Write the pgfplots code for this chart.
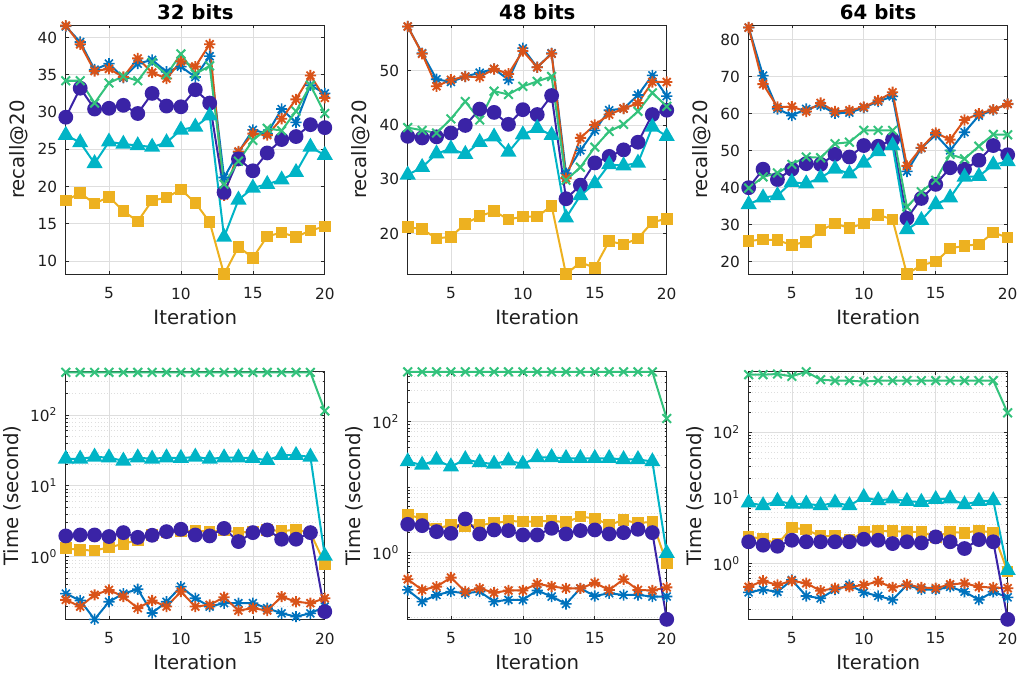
\documentclass[border=0pt]{standalone}
\usepackage{pgfplots}
\pgfplotsset{compat=1.18}
\usepackage{pgfplotstable}
\usepackage{fontspec}
\setmainfont{DejaVu Sans}

\definecolor{cb}{HTML}{0072BD}
\definecolor{cr}{HTML}{D95319}
\definecolor{cy}{HTML}{EDB120}
\definecolor{cp}{HTML}{3A23A6}
\definecolor{cg}{HTML}{33C27C}
\definecolor{cc}{HTML}{00B4C6}
\definecolor{axgray}{HTML}{262626}

\newcommand\ticksize{\fontsize{11.5}{13}\selectfont}
\newcommand\labsize{\fontsize{14.8}{17}\selectfont}

% MATLAB style '*' marker: plus and cross together
\pgfdeclareplotmark{mstar}{%
  \pgfpathmoveto{\pgfqpoint{-\pgfplotmarksize}{0pt}}%
  \pgfpathlineto{\pgfqpoint{\pgfplotmarksize}{0pt}}%
  \pgfpathmoveto{\pgfqpoint{0pt}{-\pgfplotmarksize}}%
  \pgfpathlineto{\pgfqpoint{0pt}{\pgfplotmarksize}}%
  \pgfpathmoveto{\pgfqpoint{-.707\pgfplotmarksize}{-.707\pgfplotmarksize}}%
  \pgfpathlineto{\pgfqpoint{.707\pgfplotmarksize}{.707\pgfplotmarksize}}%
  \pgfpathmoveto{\pgfqpoint{-.707\pgfplotmarksize}{.707\pgfplotmarksize}}%
  \pgfpathlineto{\pgfqpoint{.707\pgfplotmarksize}{-.707\pgfplotmarksize}}%
  \pgfusepathqstroke}

\pgfplotsset{
  sb/.style={cb, line width=1.5pt, mark=mstar, mark size=4.2pt, mark options={line width=1.2pt}},
  sr/.style={cr, line width=1.5pt, mark=mstar, mark size=4.2pt, mark options={line width=1.4pt}},
  sy/.style={cy, line width=1.5pt, mark=square*, mark size=3.6pt, mark options={fill=cy}},
  sp/.style={cp, line width=1.5pt, mark=*, mark size=4.8pt, mark options={fill=cp}},
  sg/.style={cg, line width=1.5pt, mark=x, mark size=4.6pt},
  sc/.style={cc, line width=1.5pt, mark=triangle*, mark size=5.5pt, mark options={fill=cc}},
  panelbase/.style={
    scale only axis, width=194.25pt, anchor=south west,
    xmin=2, xmax=20, xtick={5,10,15,20},
    axis line style={line width=0.6pt, axgray},
    tick align=inside, tick pos=both,
    major tick length=2.6pt, minor tick length=1.5pt,
    tick style={axgray, line width=0.5pt},
    xmajorgrids, ymajorgrids,
    major grid style={black!13, line width=0.5pt},
    ticklabel style={font=\ticksize, text=black!88},
    xticklabel style={yshift=-6.5pt},
    yticklabel style={xshift=-3pt},
    label style={font=\labsize, text=black!88},
    xlabel=Iteration,
    xlabel style={yshift=-0.5pt},
    title style={font=\labsize\bfseries, yshift=-6pt},
    clip=false,
    /pgf/number format/assume math mode=true,
  },
  panelrecall/.style={panelbase, height=187pt, ylabel={recall@20}},
  paneltime/.style={panelbase, height=185.7pt, ylabel={Time (second)},
    yminorgrids,
    minor grid style={black!13, dotted, line width=0.5pt},
  },
}

\pgfplotstableread{
x b r y p g c
2 41.5 41.6 18.1 29.3 34.2 26.9
3 39.4 39.1 19.1 33.2 34.2 25.9
4 35.7 35.5 17.7 30.4 31.2 23.1
5 36.5 35.8 18.6 30.5 33.9 26.0
6 34.6 34.7 16.7 30.9 34.8 25.7
7 36.5 37.2 15.3 29.8 34.2 25.5
8 37.0 35.3 18.1 32.5 36.7 25.3
9 35.4 34.5 18.5 30.8 35.0 25.9
10 36.1 36.8 19.6 30.7 37.8 27.6
11 34.7 36.1 17.8 33.0 35.1 28.0
12 37.5 39.1 15.2 31.2 36.2 29.5
13 21.2 18.8 8.2 19.2 20.3 13.2
14 24.6 24.7 11.9 23.7 23.4 18.2
15 27.6 27.1 10.4 22.1 26.2 19.8
16 27.1 26.9 13.3 24.5 27.8 20.3
17 30.4 29.1 13.8 26.3 27.5 20.9
18 28.6 31.7 13.2 26.7 30.1 21.9
19 33.6 34.9 14.1 28.3 33.6 25.3
20 32.5 31.9 14.6 27.9 29.8 24.2
}\recA

\pgfplotstableread{
x b r y p g c
2 58.1 58.1 21.2 37.9 39.5 30.8
3 53.2 53.1 20.8 37.6 39.0 32.2
4 48.4 47.1 19.1 37.8 38.5 34.7
5 47.9 48.3 19.4 38.5 41.1 35.6
6 48.9 48.9 21.8 39.9 44.3 34.6
7 49.6 48.8 23.2 42.9 40.9 36.8
8 50.3 50.3 24.1 42.3 46.2 37.8
9 48.3 49.4 22.6 40.1 45.6 35.0
10 54.1 53.6 23.1 42.8 47.1 38.2
11 50.6 50.6 23.1 41.9 48.0 39.4
12 53.2 53.1 25.1 45.4 48.9 38.1
13 31.1 30.2 12.5 26.4 29.8 22.9
14 35.3 37.6 14.7 28.9 32.2 27.0
15 39.0 40.0 13.7 33.0 35.9 29.2
16 42.7 41.9 18.6 34.2 38.8 32.7
17 43.0 43.0 18.0 35.4 40.1 32.5
18 45.5 44.0 19.1 36.8 42.5 33.0
19 49.1 47.9 22.1 41.9 45.9 39.6
20 45.3 47.9 22.7 42.7 43.4 37.9
}\recB

\pgfplotstableread{
x b r y p g c
2 83.3 83.3 25.6 40.0 39.9 35.5
3 70.3 68.0 26.0 45.0 42.9 37.3
4 61.3 61.8 25.8 42.2 44.0 37.9
5 59.5 61.9 24.5 45.0 46.3 41.5
6 61.3 60.6 25.4 46.5 48.3 41.1
7 62.2 62.9 28.5 46.3 48.1 42.7
8 60.1 60.6 30.3 49.0 51.9 45.1
9 60.3 60.9 29.1 48.3 52.3 43.8
10 61.6 61.8 30.3 51.4 55.5 46.7
11 63.3 63.6 32.7 51.2 55.5 49.8
12 64.7 65.8 31.4 53.0 55.5 51.4
13 44.4 45.9 16.6 31.7 34.8 28.7
14 50.7 50.8 19.1 37.1 38.9 31.2
15 54.3 54.8 20.0 40.9 42.0 35.5
16 50.1 53.0 23.6 45.4 49.0 37.3
17 55.0 58.3 24.3 45.0 47.8 42.9
18 59.5 60.0 24.7 47.4 51.2 43.1
19 61.0 61.1 27.9 51.4 54.4 46.2
20 62.7 62.6 26.5 48.9 54.3 47.1
}\recC

\pgfplotstableread{
x b r y p g c
2 0.30 0.245 1.31 1.96 400 24
3 0.24 0.197 1.24 2.02 400 24
4 0.13 0.288 1.22 2.02 400 25.6
5 0.23 0.338 1.35 1.92 400 25
6 0.30 0.272 1.51 2.18 400 22.5
7 0.346 0.187 1.72 1.87 400 25
8 0.16 0.24 2.02 2.0 400 24
9 0.23 0.197 2.18 2.25 400 25
10 0.377 0.32 2.25 2.43 400 24.5
11 0.258 0.197 2.33 2.02 400 25.6
12 0.197 0.208 2.25 1.96 400 24
13 0.22 0.267 2.38 2.5 400 25
14 0.22 0.173 2.18 1.63 400 25
15 0.22 0.187 2.25 2.18 400 24.5
16 0.187 0.173 2.38 2.38 400 23
17 0.158 0.272 2.3 1.76 400 27
18 0.142 0.23 2.38 1.76 400 27
19 0.158 0.22 2.18 2.18 400 25.6
20 0.197 0.258 0.79 0.167 114 1.02
}\timA

\pgfplotstableread{
x b r y p g c
2 0.265 0.386 3.73 2.68 580 24.5
3 0.176 0.265 3.31 2.56 580 21.7
4 0.222 0.298 2.25 2.07 580 25.9
5 0.25 0.41 2.68 1.95 580 20.5
6 0.236 0.25 2.53 3.24 580 26.5
7 0.25 0.28 2.62 1.91 580 23.7
8 0.176 0.24 2.78 2.2 580 22.5
9 0.187 0.26 3.02 2.15 580 25.3
10 0.187 0.26 2.95 1.84 580 22.5
11 0.26 0.33 2.95 1.84 580 28.4
12 0.21 0.30 3.05 2.33 580 28.4
13 0.162 0.28 2.88 1.91 580 27.5
14 0.28 0.28 3.51 2.15 580 27.5
15 0.214 0.34 3.31 2.2 580 27.5
16 0.236 0.265 2.62 1.91 580 27.5
17 0.222 0.386 3.13 2.0 580 26.5
18 0.222 0.265 2.78 2.25 580 26.5
19 0.21 0.26 2.95 2.0 580 24.5
20 0.21 0.29 0.68 0.094 112 0.97
}\timB

\pgfplotstableread{
x b r y p g c
2 0.363 0.44 2.54 2.14 751 8.4
3 0.40 0.545 2.40 1.90 751 7.65
4 0.37 0.47 1.97 1.83 769 8.9
5 0.56 0.545 3.52 2.26 709 8.1
6 0.32 0.50 3.28 2.14 833 8.1
7 0.295 0.385 2.60 2.14 631 7.65
8 0.40 0.42 2.60 2.14 610 8.4
9 0.47 0.44 2.26 2.14 610 7.65
10 0.363 0.47 3.03 2.34 589 10.2
11 0.32 0.53 3.10 2.26 610 9.1
12 0.28 0.43 3.13 2.01 610 9.7
13 0.47 0.48 3.03 2.14 610 8.9
14 0.40 0.43 3.03 2.06 610 8.6
15 0.40 0.42 2.54 2.54 610 9.5
16 0.44 0.48 3.03 2.14 610 9.7
17 0.37 0.50 2.92 1.69 610 7.9
18 0.28 0.44 3.20 2.31 610 8.9
19 0.37 0.43 2.92 2.14 610 9.1
20 0.305 0.42 0.75 0.141 197 0.79
}\timC

% one macro draws the six series of a table
\newcommand\series[1]{%
  \addplot[sb] table[x=x,y=b] {#1};
  \addplot[sr] table[x=x,y=r] {#1};
  \addplot[sy] table[x=x,y=y] {#1};
  \addplot[sp] table[x=x,y=p] {#1};
  \addplot[sg] table[x=x,y=g] {#1};
  \addplot[sc] table[x=x,y=c] {#1};
}

\begin{document}
\begin{tikzpicture}
\path[use as bounding box] (0,0) rectangle (768pt,504pt);

% top row: recall
\begin{axis}[panelrecall, at={(49.35pt,298.3pt)}, title={32 bits},
  ymin=8.2, ymax=41.7, ytick={10,15,...,40}]
  \series{\recA}
\end{axis}
\begin{axis}[panelrecall, at={(305.8pt,298.3pt)}, title={48 bits},
  ymin=12.5, ymax=58.4, ytick={20,30,40,50}]
  \series{\recB}
\end{axis}
\begin{axis}[panelrecall, at={(561.5pt,298.3pt)}, title={64 bits},
  ymin=16.6, ymax=84, ytick={20,30,...,80}]
  \series{\recC}
\end{axis}

% bottom row: time
\begin{axis}[ymode=log, paneltime, at={(49.35pt,39.5pt)},
  ymin=0.13, ymax=408, ytick={1,10,100},
  yticklabels={10\textsuperscript{0},10\textsuperscript{1},10\textsuperscript{2}},
  minor ytick={0.2,0.3,0.4,0.5,0.6,0.7,0.8,0.9,2,3,4,5,6,7,8,9,20,30,40,50,60,70,80,90,200,300,400}]
  \series{\timA}
\end{axis}
\begin{axis}[ymode=log, paneltime, at={(305.8pt,39.5pt)},
  ymin=0.094, ymax=582, ytick={1,100},
  yticklabels={10\textsuperscript{0},10\textsuperscript{2}},
  minor ytick={0.1,0.2,0.3,0.4,0.5,0.6,0.7,0.8,0.9,2,3,4,5,6,7,8,9,10,20,30,40,50,60,70,80,90,200,300,400,500}]
  \series{\timB}
\end{axis}
\begin{axis}[ymode=log, paneltime, at={(561.5pt,39.5pt)},
  ymin=0.141, ymax=833, ytick={1,10,100},
  yticklabels={10\textsuperscript{0},10\textsuperscript{1},10\textsuperscript{2}},
  minor ytick={0.2,0.3,0.4,0.5,0.6,0.7,0.8,0.9,2,3,4,5,6,7,8,9,20,30,40,50,60,70,80,90,200,300,400,500,600,700,800}]
  \series{\timC}
\end{axis}
\end{tikzpicture}
\end{document}
